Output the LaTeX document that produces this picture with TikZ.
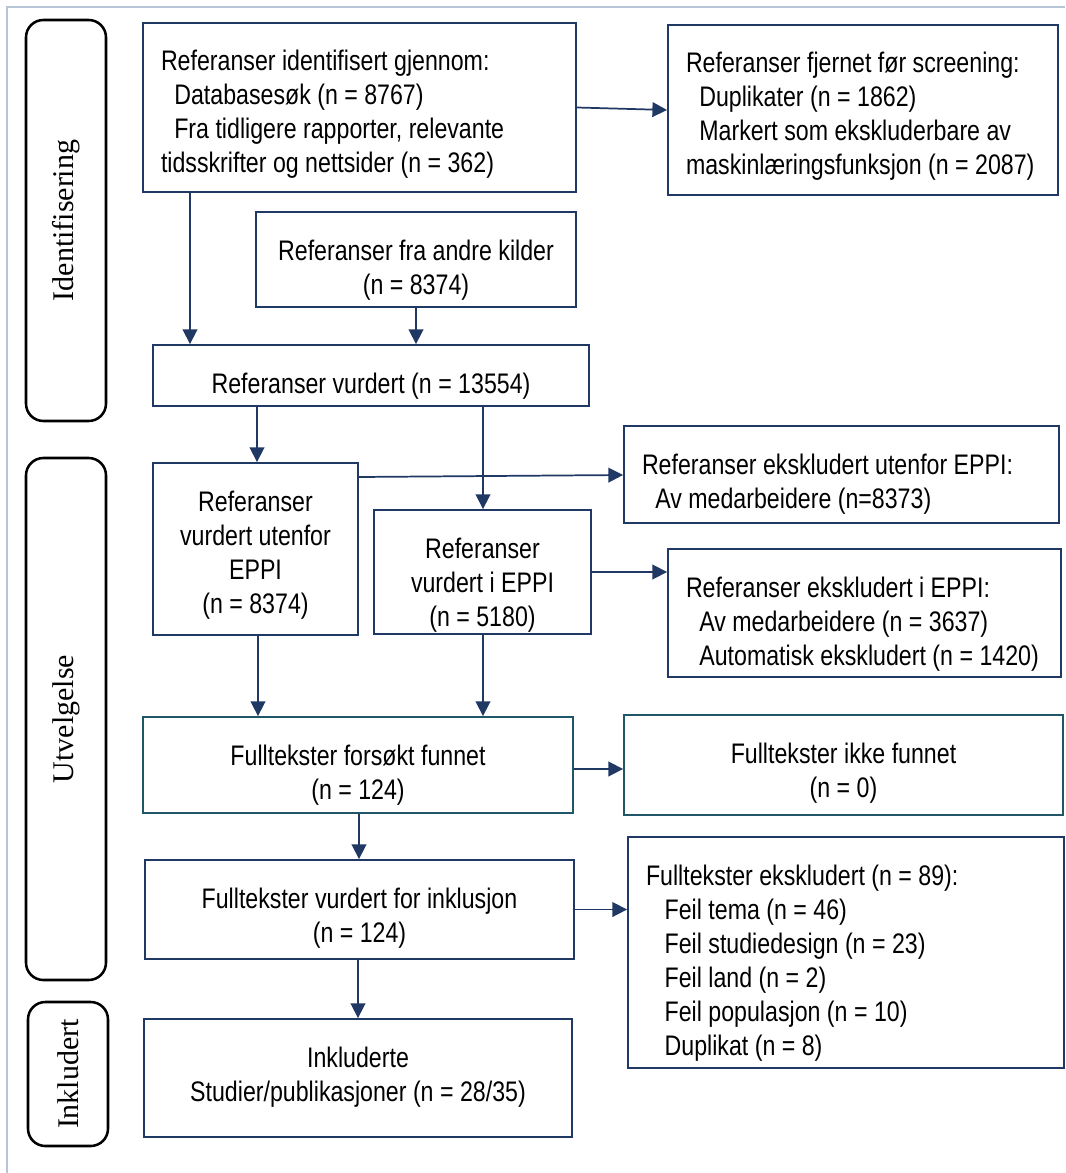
\documentclass[tikz,border=0pt]{standalone}
\usepackage{fontspec}
\usetikzlibrary{arrows.meta}
\newfontfamily\narrowsans{Liberation Sans}[FakeStretch=0.82]
\newfontfamily\labelserif{Liberation Serif}
\definecolor{navy}{RGB}{32,56,100}
\definecolor{tealc}{RGB}{31,86,104}
\definecolor{framec}{RGB}{184,196,216}
\newcommand\myind{\hspace*{10pt}}
\newcommand\myindb{\hspace*{14pt}}
\newcommand\mkbox[8][]{%
 \pgfmathsetmacro\bw{(#5-#3)*0.75}%
 \pgfmathsetmacro\bh{(#6-#4)*0.75}%
 \pgfmathsetmacro\tw{(#5-#3-36)*0.75}%
 \pgfmathsetmacro\td{(#6-#4)*0.75-36}%
 \node[box, minimum width=\bw pt, minimum height=\bh pt, text height=36pt, text depth=\td pt, #1] (#2) at ({(#3+#5)/2},{(#4+#6)/2}) {\makebox[\tw pt][#7]{\begin{tabular}[t]{@{}#7@{}}#8\end{tabular}}};}
\begin{document}
\begin{tikzpicture}[x=0.75pt,y=-0.75pt,
  box/.style={draw=navy, line width=1.4pt, inner xsep=13.5pt, inner ysep=0pt,
    font=\narrowsans\fontsize{21.2}{25.5}\selectfont, text=black},
  tbox/.style={draw=tealc},
  side/.style={draw=black, line width=1.9pt, rounded corners=13pt, rotate=90, minimum height=60pt,
    inner sep=0pt, font=\labelserif\fontsize{22.5}{26}\selectfont},
  arr/.style={draw=navy, line width=1.3pt, -{Triangle[length=11pt,width=11pt]}}]
\useasboundingbox (0,0) rectangle (1065,1173);
\fill[white] (0,0) rectangle (1065,1173);
\draw[framec, line width=1.5pt] (7,1173) -- (7,7) -- (1065,7);

% side labels
\node[side, minimum width=300.75pt] (sid) at (66,220.5) {Identifisering};
\node[side, minimum width=391.5pt] (sut) at (66,719) {Utvelgelse};
\node[side, minimum width=108pt] (sin) at (68,1074) {Inkludert};

% boxes
\mkbox{A}{143}{23}{576}{192}{l}{Referanser identifisert gjennom:\\ \myind Databasesøk (n = 8767)\\ \myind Fra tidligere rapporter, relevante\\ tidsskrifter og nettsider (n = 362)}
\mkbox{B}{668}{25}{1058}{195}{l}{Referanser fjernet før screening:\\ \myind Duplikater (n = 1862)\\ \myind Markert som ekskluderbare av\\ maskinlæringsfunksjon (n = 2087)}
\mkbox{C}{256}{212}{576}{307}{c}{Referanser fra andre kilder\\ (n = 8374)}
\mkbox{D}{153}{345}{589}{406}{c}{Referanser vurdert (n = 13554)}
\mkbox{E}{153}{463}{358}{635}{c}{Referanser\\ vurdert utenfor\\ EPPI\\ (n = 8374)}
\mkbox{F}{624}{426}{1059}{523}{l}{Referanser ekskludert utenfor EPPI:\\ \myind Av medarbeidere (n=8373)}
\mkbox{G}{374}{510}{591}{634}{c}{Referanser\\ vurdert i EPPI\\ (n = 5180)}
\mkbox{H}{668}{549}{1061}{677}{l}{Referanser ekskludert i EPPI:\\ \myind Av medarbeidere (n = 3637)\\ \myind Automatisk ekskludert (n = 1420)}
\mkbox[tbox]{I}{143}{717}{573}{813}{c}{Fulltekster forsøkt funnet\\ (n = 124)}
\mkbox[tbox]{J}{624}{715}{1063}{815}{c}{Fulltekster ikke funnet\\ (n = 0)}
\mkbox{K}{145}{860}{574}{959}{c}{Fulltekster vurdert for inklusjon\\ (n = 124)}
\mkbox{L}{628}{837}{1064}{1068}{l}{Fulltekster ekskludert (n = 89):\\ \myindb Feil tema (n = 46)\\ \myindb Feil studiedesign (n = 23)\\ \myindb Feil land (n = 2)\\ \myindb Feil populasjon (n = 10)\\ \myindb Duplikat (n = 8)}
\mkbox{M}{144}{1019}{572}{1137}{c}{Inkluderte\\ Studier/publikasjoner (n = 28/35)}

% connectors
\draw[arr] (A.east) -- (B.west);
\draw[arr] (A.south -| 190,0) -- (D.north -| 190,0);
\draw[arr] (C.south -| 416,0) -- (D.north -| 416,0);
\draw[arr] (D.south -| 257,0) -- (E.north -| 257,0);
\draw[arr] (E.east |- 0,477) -- (F.west |- 0,475);
\draw[arr] (D.south -| 483,0) -- (G.north -| 483,0);
\draw[arr] (G.east) -- (H.west |- G.east);
\draw[arr] (E.south -| 258,0) -- (I.north -| 258,0);
\draw[arr] (G.south -| 483,0) -- (I.north -| 483,0);
\draw[arr] (I.east |- 0,769) -- (J.west |- 0,769);
\draw[arr] (I.south -| 359,0) -- (K.north -| 359,0);
\draw[arr] (K.east) -- (L.west |- K.east);
\draw[arr] (K.south -| 358,0) -- (M.north -| 358,0);
\end{tikzpicture}
\end{document}
